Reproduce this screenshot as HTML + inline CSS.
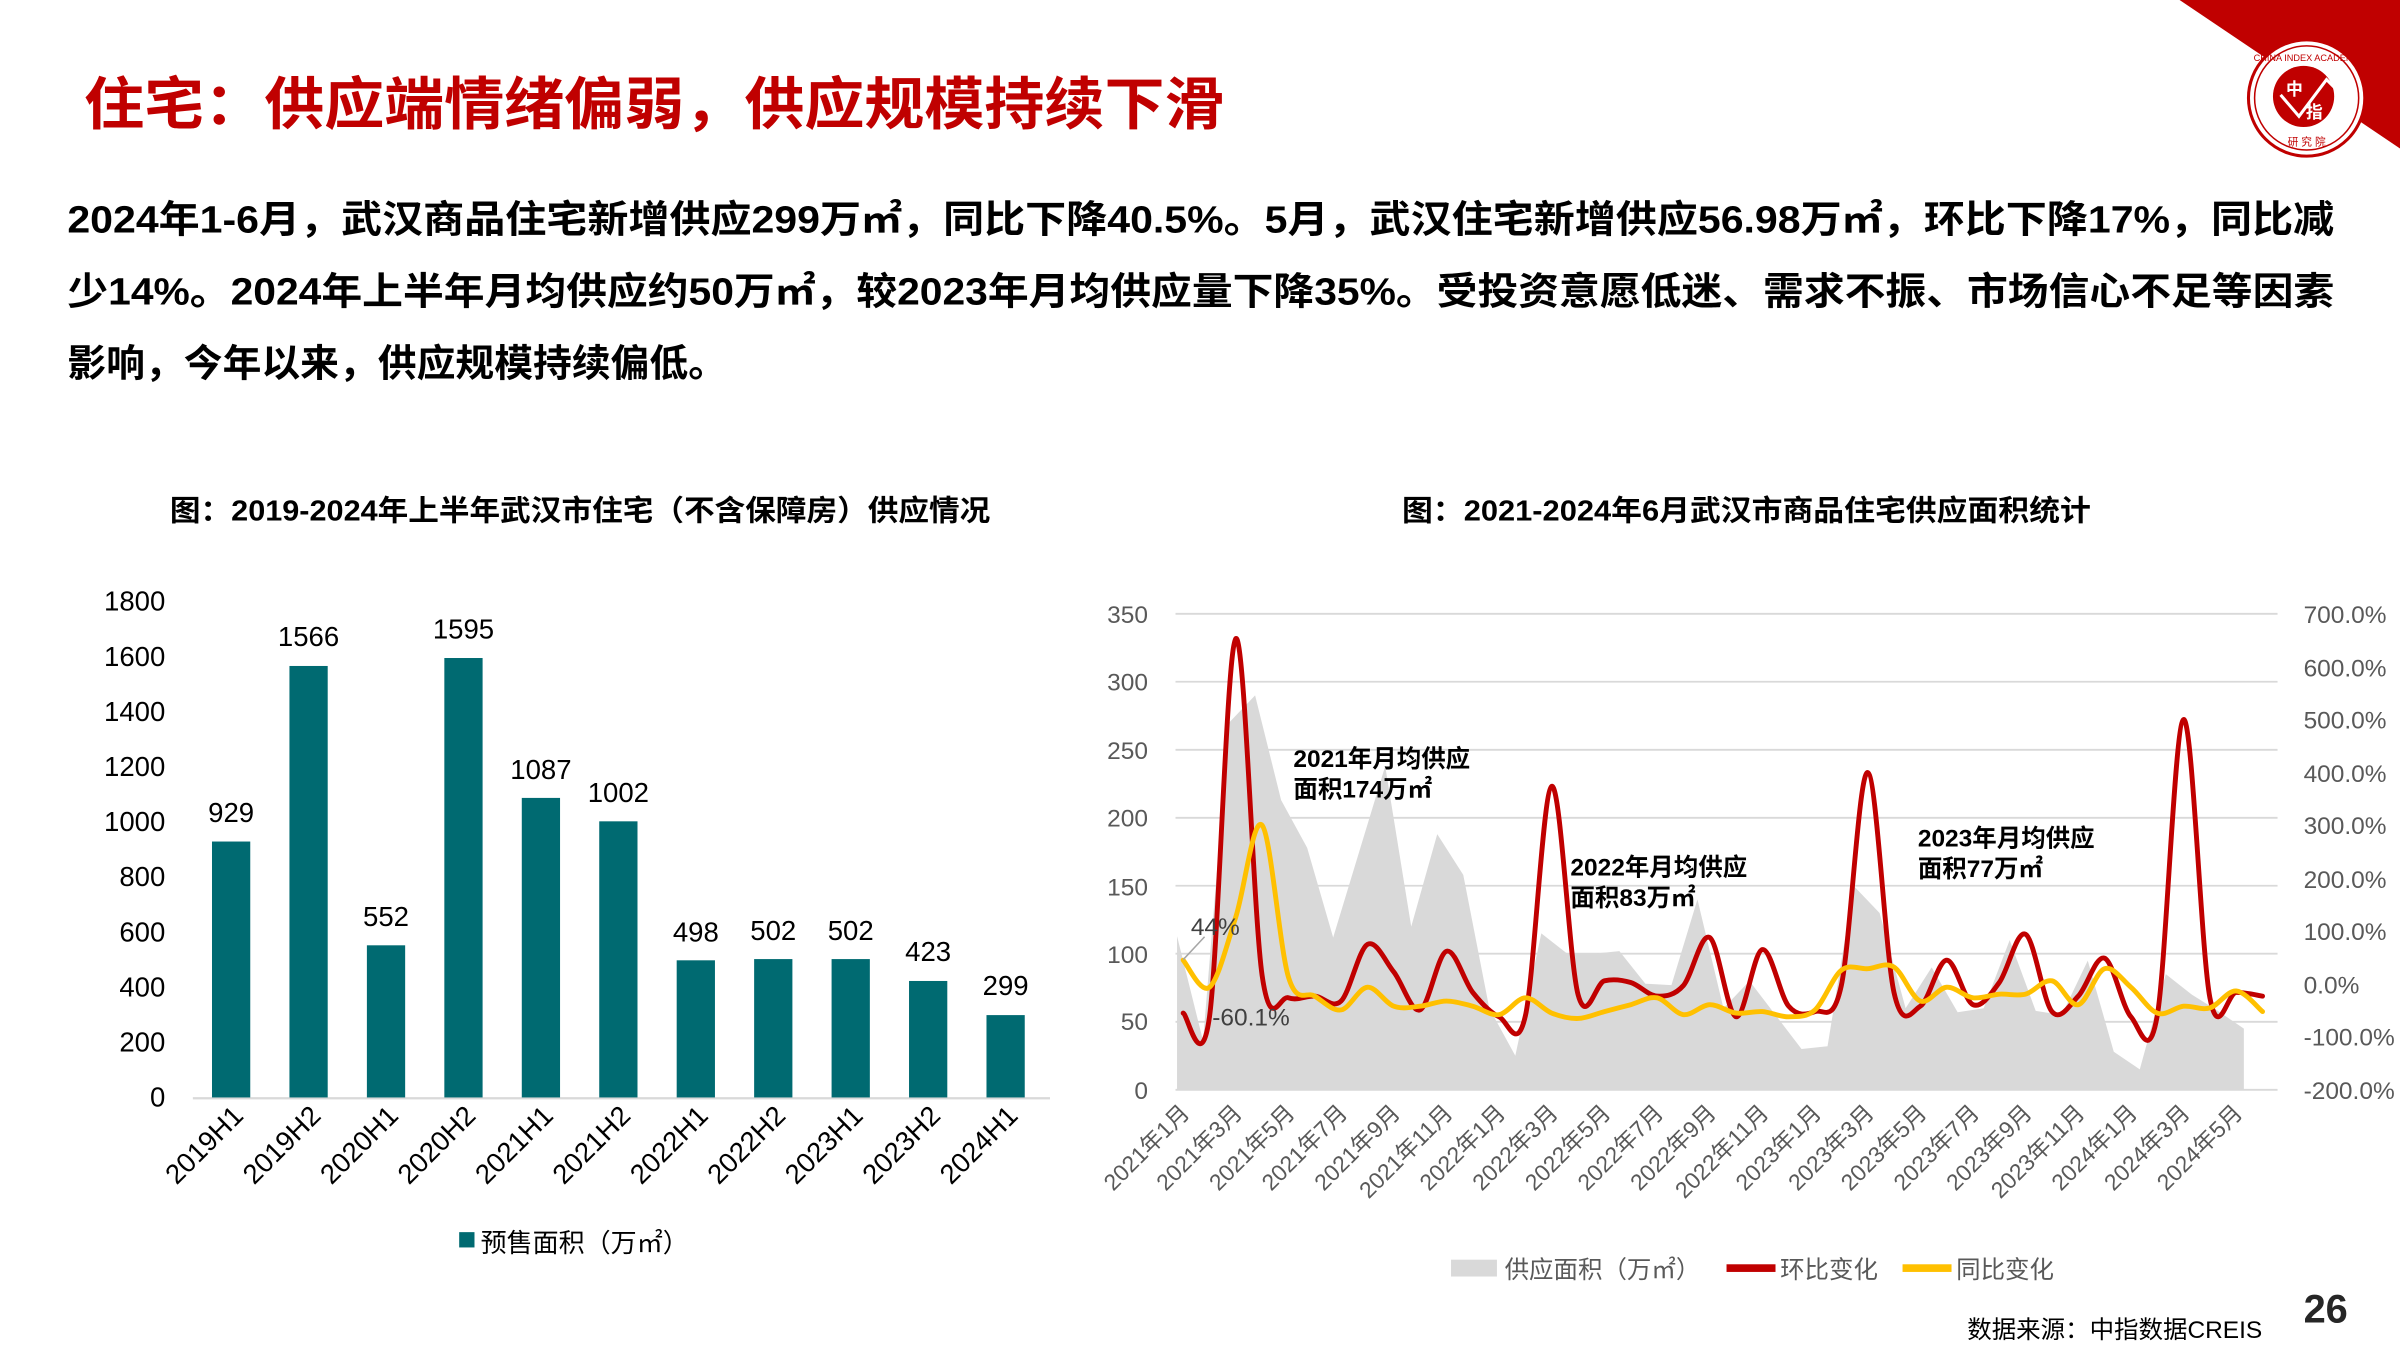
<!DOCTYPE html>
<html><head><meta charset="utf-8">
<style>
html,body{margin:0;padding:0;background:#fff;}
svg{display:block;}
text{font-family:"Liberation Sans","Noto Sans CJK SC",sans-serif;}
</style></head>
<body>
<svg width="2400" height="1350" viewBox="0 0 1568 882" xmlns="http://www.w3.org/2000/svg">
<rect width="1568" height="882" fill="#fff"/>
<!-- red corner -->
<polygon points="1424,0 1568,0 1568,97" fill="#c00000"/>
<circle cx="1507" cy="64" r="38" fill="#fff" stroke="#c00000" stroke-width="2"/>
<circle cx="1507" cy="64" r="34" fill="none" stroke="#c00000" stroke-width="1"/>
<circle cx="1505" cy="63" r="20" fill="#c00000"/>
<polyline points="1490,62 1502,76 1520,52 1528,60" fill="none" stroke="#fff" stroke-width="2"/>
<text x="1499" y="62" font-size="11" fill="#fff" font-weight="bold" text-anchor="middle">中</text>
<text x="1512" y="77" font-size="11" fill="#fff" font-weight="bold" text-anchor="middle">指</text>
<text x="1507" y="95" font-size="7" fill="#c00000" text-anchor="middle">研 究 院</text>
<text x="1507" y="40" font-size="6" fill="#c00000" text-anchor="middle">CHINA INDEX ACADEMY</text>

<!-- title -->
<text x="55" y="81" font-size="37" font-weight="bold" fill="#c00000" textLength="745" lengthAdjust="spacingAndGlyphs">住宅：供应端情绪偏弱，供应规模持续下滑</text>

<!-- paragraph -->
<g font-size="25" font-weight="bold" fill="#000">
<text x="44" y="152" textLength="1481" lengthAdjust="spacingAndGlyphs">2024年1-6月，武汉商品住宅新增供应299万㎡，同比下降40.5%。5月，武汉住宅新增供应56.98万㎡，环比下降17%，同比减</text>
<text x="44" y="199" textLength="1481" lengthAdjust="spacingAndGlyphs">少14%。2024年上半年月均供应约50万㎡，较2023年月均供应量下降35%。受投资意愿低迷、需求不振、市场信心不足等因素</text>
<text x="44" y="246" textLength="431" lengthAdjust="spacingAndGlyphs">影响，今年以来，供应规模持续偏低。</text>
</g>

<!-- chart titles -->
<text x="111" y="340" font-size="19" font-weight="bold" fill="#000" textLength="536" lengthAdjust="spacingAndGlyphs">图：2019-2024年上半年武汉市住宅（不含保障房）供应情况</text>
<text x="916" y="340" font-size="19" font-weight="bold" fill="#000" textLength="450" lengthAdjust="spacingAndGlyphs">图：2021-2024年6月武汉市商品住宅供应面积统计</text>

<!-- LEFT CHART -->
<g font-size="18" fill="#000" text-anchor="end">
<text x="108" y="723">0</text><text x="108" y="687">200</text><text x="108" y="651">400</text>
<text x="108" y="615">600</text><text x="108" y="579">800</text><text x="108" y="543">1000</text>
<text x="108" y="507">1200</text><text x="108" y="471">1400</text><text x="108" y="435">1600</text>
<text x="108" y="399">1800</text>
</g>
<line x1="126" y1="717.5" x2="686" y2="717.5" stroke="#d9d9d9" stroke-width="1.5"/>
<g fill="#006a71">
<rect x="138.5" y="549.8" width="25" height="167.2"/>
<rect x="189.1" y="435.1" width="25" height="281.9"/>
<rect x="239.7" y="617.6" width="25" height="99.4"/>
<rect x="290.3" y="429.9" width="25" height="287.1"/>
<rect x="340.9" y="521.3" width="25" height="195.7"/>
<rect x="391.5" y="536.6" width="25" height="180.4"/>
<rect x="442.1" y="627.4" width="25" height="89.6"/>
<rect x="492.7" y="626.6" width="25" height="90.4"/>
<rect x="543.3" y="626.6" width="25" height="90.4"/>
<rect x="593.9" y="640.9" width="25" height="76.1"/>
<rect x="644.5" y="663.2" width="25" height="53.8"/>
</g>
<g font-size="18" fill="#000" text-anchor="middle">
<text x="151" y="537">929</text><text x="201.6" y="422">1566</text><text x="252.2" y="605">552</text>
<text x="302.8" y="417">1595</text><text x="353.4" y="509">1087</text><text x="404" y="524">1002</text>
<text x="454.6" y="615">498</text><text x="505.2" y="614">502</text><text x="555.8" y="614">502</text>
<text x="606.4" y="628">423</text><text x="657" y="650">299</text>
</g>
<g font-size="18" fill="#000" text-anchor="end">
<text transform="translate(160,730) rotate(-45)">2019H1</text>
<text transform="translate(210.6,730) rotate(-45)">2019H2</text>
<text transform="translate(261.2,730) rotate(-45)">2020H1</text>
<text transform="translate(311.8,730) rotate(-45)">2020H2</text>
<text transform="translate(362.4,730) rotate(-45)">2021H1</text>
<text transform="translate(413,730) rotate(-45)">2021H2</text>
<text transform="translate(463.6,730) rotate(-45)">2022H1</text>
<text transform="translate(514.2,730) rotate(-45)">2022H2</text>
<text transform="translate(564.8,730) rotate(-45)">2023H1</text>
<text transform="translate(615.4,730) rotate(-45)">2023H2</text>
<text transform="translate(666,730) rotate(-45)">2024H1</text>
</g>
<rect x="300" y="805" width="10" height="10" fill="#006a71"/>
<text x="314" y="818" font-size="17" fill="#000">预售面积（万㎡）</text>

<!-- RIGHT CHART -->
<g stroke="#d9d9d9" stroke-width="1.2">
<line x1="768" y1="401" x2="1488" y2="401"/><line x1="768" y1="445.4" x2="1488" y2="445.4"/>
<line x1="768" y1="489.9" x2="1488" y2="489.9"/><line x1="768" y1="534.3" x2="1488" y2="534.3"/>
<line x1="768" y1="578.7" x2="1488" y2="578.7"/><line x1="768" y1="623.1" x2="1488" y2="623.1"/>
<line x1="768" y1="667.6" x2="1488" y2="667.6"/><line x1="768" y1="712" x2="1488" y2="712"/>
</g>
<g font-size="16" fill="#595959" text-anchor="end">
<text x="750" y="718">0</text><text x="750" y="673">50</text><text x="750" y="629">100</text>
<text x="750" y="585">150</text><text x="750" y="540">200</text><text x="750" y="496">250</text>
<text x="750" y="451">300</text><text x="750" y="407">350</text>
</g>
<g font-size="16" fill="#595959">
<text x="1505" y="407">700.0%</text><text x="1505" y="442">600.0%</text><text x="1505" y="476">500.0%</text>
<text x="1505" y="511">400.0%</text><text x="1505" y="545">300.0%</text><text x="1505" y="580">200.0%</text>
<text x="1505" y="614">100.0%</text><text x="1505" y="649">0.0%</text><text x="1505" y="683">-100.0%</text>
<text x="1505" y="718">-200.0%</text>
</g>
<!-- grey area -->
<g transform="translate(769,712) scale(17.0,-0.8886)">
<polygon fill="#d9d9d9" points="0,0 0,113 1,36 2,270 3,290 4,213 5,178 6,112 7,175 8,238 9,120 10,188 11,158 12,60 13,25 14,115 15,100 16,100 17,102 18,78 19,77 20,140 21,60 22,80 23,55 24,30 25,32 26,150 27,130 28,60 29,90 30,57 31,60 32,110 33,58 34,55 35,95 36,28 37,15 38,85 39,70 40,58 41,45 41,0"/>
</g>
<!-- red -->
<polyline class="smooth" fill="none" stroke="#c00000" stroke-width="3.2" stroke-linejoin="round" stroke-linecap="round" points="773,661.9 790.2,664.3 807.4,417.2 824.6,637.4 841.8,651.9 859,650.8 876.2,654 893.4,617 910.6,635 927.8,659.8 945,621.5 962.2,648.4 979.4,664.3 996.6,663.6 1013.8,513.7 1031,649.8 1048.2,640.8 1065.4,641.9 1082.6,650.8 1099.8,643.9 1117,612.5 1134.2,664.3 1151.4,620.4 1168.6,657.4 1185.8,660.9 1203,643.9 1220.2,504.7 1237.4,648.4 1254.6,657.4 1271.8,627.3 1289,656.4 1306.2,641.9 1323.4,610.4 1340.6,660.9 1357.8,650.8 1375,626 1392.2,664.3 1409.4,663.6 1426.6,470.1 1443.8,651.9 1461,648.4 1478.2,650.8"/>
<!-- yellow -->
<polyline class="smooth" fill="none" stroke="#ffc000" stroke-width="3.2" stroke-linejoin="round" stroke-linecap="round" points="773,627.3 790.2,645 807.4,599 824.6,539.2 841.8,638.4 859,650.8 876.2,659.8 893.4,645 910.6,657.4 927.8,657.4 945,654 962.2,657.4 979.4,662.9 996.6,651.9 1013.8,661.9 1031,665.4 1048.2,660.9 1065.4,656.4 1082.6,651.9 1099.8,662.9 1117,656.4 1134.2,661.9 1151.4,660.9 1168.6,664.3 1185.8,659.8 1203,633.9 1220.2,632.9 1237.4,631.8 1254.6,654 1271.8,645 1289,651.9 1306.2,649.5 1323.4,649.5 1340.6,640.8 1357.8,656.4 1375,632.9 1392.2,645 1409.4,661.9 1426.6,657.4 1443.8,658.5 1461,647.4 1478.2,660.9"/>
<line x1="773" y1="627" x2="787" y2="612" stroke="#a6a6a6" stroke-width="1"/>
<text x="778" y="611" font-size="16" fill="#404040">44%</text>
<text x="792" y="670" font-size="16" fill="#404040">-60.1%</text>
<g font-size="16" font-weight="bold" fill="#000">
<text x="845" y="501">2021年月均供应</text><text x="845" y="521">面积174万㎡</text>
<text x="1026" y="572">2022年月均供应</text><text x="1026" y="592">面积83万㎡</text>
<text x="1253" y="553">2023年月均供应</text><text x="1253" y="573">面积77万㎡</text>
</g>
<g font-size="15" fill="#595959" text-anchor="end">
<text transform="translate(778,728) rotate(-45)">2021年1月</text>
<text transform="translate(812.4,728) rotate(-45)">2021年3月</text>
<text transform="translate(846.8,728) rotate(-45)">2021年5月</text>
<text transform="translate(881.2,728) rotate(-45)">2021年7月</text>
<text transform="translate(915.6,728) rotate(-45)">2021年9月</text>
<text transform="translate(950,728) rotate(-45)">2021年11月</text>
<text transform="translate(984.4,728) rotate(-45)">2022年1月</text>
<text transform="translate(1018.8,728) rotate(-45)">2022年3月</text>
<text transform="translate(1053.2,728) rotate(-45)">2022年5月</text>
<text transform="translate(1087.6,728) rotate(-45)">2022年7月</text>
<text transform="translate(1122,728) rotate(-45)">2022年9月</text>
<text transform="translate(1156.4,728) rotate(-45)">2022年11月</text>
<text transform="translate(1190.8,728) rotate(-45)">2023年1月</text>
<text transform="translate(1225.2,728) rotate(-45)">2023年3月</text>
<text transform="translate(1259.6,728) rotate(-45)">2023年5月</text>
<text transform="translate(1294,728) rotate(-45)">2023年7月</text>
<text transform="translate(1328.4,728) rotate(-45)">2023年9月</text>
<text transform="translate(1362.8,728) rotate(-45)">2023年11月</text>
<text transform="translate(1397.2,728) rotate(-45)">2024年1月</text>
<text transform="translate(1431.6,728) rotate(-45)">2024年3月</text>
<text transform="translate(1466,728) rotate(-45)">2024年5月</text>
</g>
<!-- legend -->
<rect x="948" y="823" width="30" height="11" fill="#d9d9d9"/>
<text x="983" y="835" font-size="16" fill="#595959">供应面积（万㎡）</text>
<rect x="1128" y="826" width="32" height="5" fill="#c00000"/>
<text x="1163" y="835" font-size="16" fill="#595959">环比变化</text>
<rect x="1243" y="826" width="32" height="5" fill="#ffc000"/>
<text x="1278" y="835" font-size="16" fill="#595959">同比变化</text>

<text x="1478" y="874" font-size="16" fill="#000" text-anchor="end">数据来源：中指数据CREIS</text>
<text x="1505" y="864" font-size="26" font-weight="bold" fill="#262626">26</text>
</svg>
<script>
(function(){
  var ns="http://www.w3.org/2000/svg";
  var pls=document.querySelectorAll("polyline.smooth");
  for(var k=0;k<pls.length;k++){
    var pl=pls[k];
    var pts=pl.getAttribute("points").trim().split(/\s+/).map(function(s){var a=s.split(",");return [+a[0],+a[1]];});
    var d="M"+pts[0][0]+","+pts[0][1];
    var t=0.5/3*2*0.5*2; // tension factor ~1/3
    t=1/6;
    for(var i=0;i<pts.length-1;i++){
      var p0=pts[i>0?i-1:i],p1=pts[i],p2=pts[i+1],p3=pts[i+2<pts.length?i+2:i+1];
      var c1x=p1[0]+(p2[0]-p0[0])*t,c1y=p1[1]+(p2[1]-p0[1])*t;
      var c2x=p2[0]-(p3[0]-p1[0])*t,c2y=p2[1]-(p3[1]-p1[1])*t;
      d+=" C"+c1x.toFixed(1)+","+c1y.toFixed(1)+" "+c2x.toFixed(1)+","+c2y.toFixed(1)+" "+p2[0]+","+p2[1];
    }
    var p=document.createElementNS(ns,"path");
    p.setAttribute("d",d);
    ["fill","stroke","stroke-width","stroke-linejoin","stroke-linecap"].forEach(function(a){p.setAttribute(a,pl.getAttribute(a));});
    pl.parentNode.replaceChild(p,pl);
  }
})();
</script>
</body></html>
